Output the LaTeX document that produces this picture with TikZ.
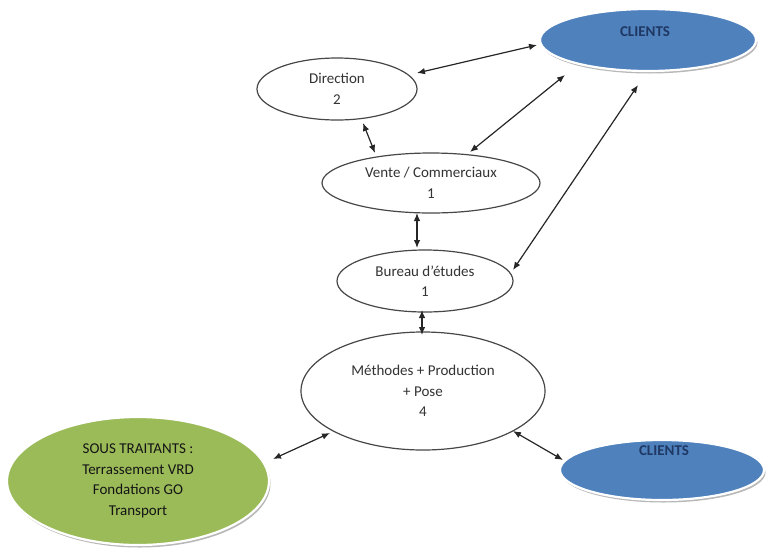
\documentclass[tikz,border=0pt]{standalone}
\usepackage{fontspec}
\setmainfont{Carlito}
\usetikzlibrary{shapes.geometric,arrows.meta,calc}
\definecolor{cblue}{HTML}{4F81BD}
\definecolor{cgreen}{HTML}{9BBB59}
\definecolor{ctext}{HTML}{333333}
\definecolor{navy}{HTML}{1F3864}
\begin{document}
\begin{tikzpicture}[x=1pt,y=-1pt,
  every node/.style={font=\fontsize{15}{20.5}\selectfont},
  wnode/.style={ellipse, draw=black!72, line width=1.2pt, fill=white, inner sep=0pt, align=center, text=ctext},
  cnode/.style={ellipse, inner sep=0pt, draw=white, line width=2.2pt, align=center,
    preaction={fill=black!28, transform canvas={xshift=1.5pt, yshift=-2.5pt}}},
  clbl/.style={font=\fontsize{15}{20}\selectfont\bfseries, text=navy},
  link/.style={{Latex[length=8pt,width=6.5pt]}-{Latex[length=8pt,width=6.5pt]}, line width=1.2pt, black!85}
]
\useasboundingbox (0,0) rectangle (767,552);

\node[cnode, fill=cblue, minimum width=216, minimum height=62] (cl1) at (648,40) {};
\node[clbl] (cl1t) at ($(cl1)+(-3,-8)$) {CLIENTS};

\node[wnode, minimum width=160, minimum height=62] (dir) at (337,89) {Direction\\2};
\node[wnode, minimum width=218, minimum height=60] (ven) at (431,183) {Vente / Commerciaux\\1};
\node[wnode, minimum width=176, minimum height=62] (bur) at (425,281) {Bureau d’études\\1};
\node[wnode, minimum width=244, minimum height=118] (met) at (423,391) {Méthodes + Production\\+ Pose\\4};

\node[cnode, fill=cgreen, minimum width=262, minimum height=128, text=black!92] (sous) at (138,481)
  {SOUS TRAITANTS :\\Terrassement VRD\\Fondations GO\\Transport};

\node[cnode, fill=cblue, minimum width=204, minimum height=60] (cl2) at (662,470) {};
\node[clbl] (cl2t) at ($(cl2)+(2,-19)$) {CLIENTS};

\draw[link] ($(dir)+(80,-16)$) -- ($(cl1)+(-111,5)$);
\draw[link] ($(dir)+(26,34)$) -- ($(ven)+(-56,-30)$);
\draw[link] ($(ven)+(39,-31)$) -- ($(cl1)+(-83,35)$);
\draw[link] ($(bur)+(88,-11)$) -- ($(cl1)+(-10,45)$);
\draw[link] ($(ven)+(-14,30)$) -- ($(bur)+(-8,-33)$);
\draw[link] ($(bur)+(-3,29)$) -- ($(met)+(-1,-56)$);
\draw[link] ($(met)+(-93,42)$) -- ($(sous)+(135,-22)$);
\draw[link] ($(met)+(90,40)$) -- ($(cl2)+(-99,-10)$);
\end{tikzpicture}
\end{document}
